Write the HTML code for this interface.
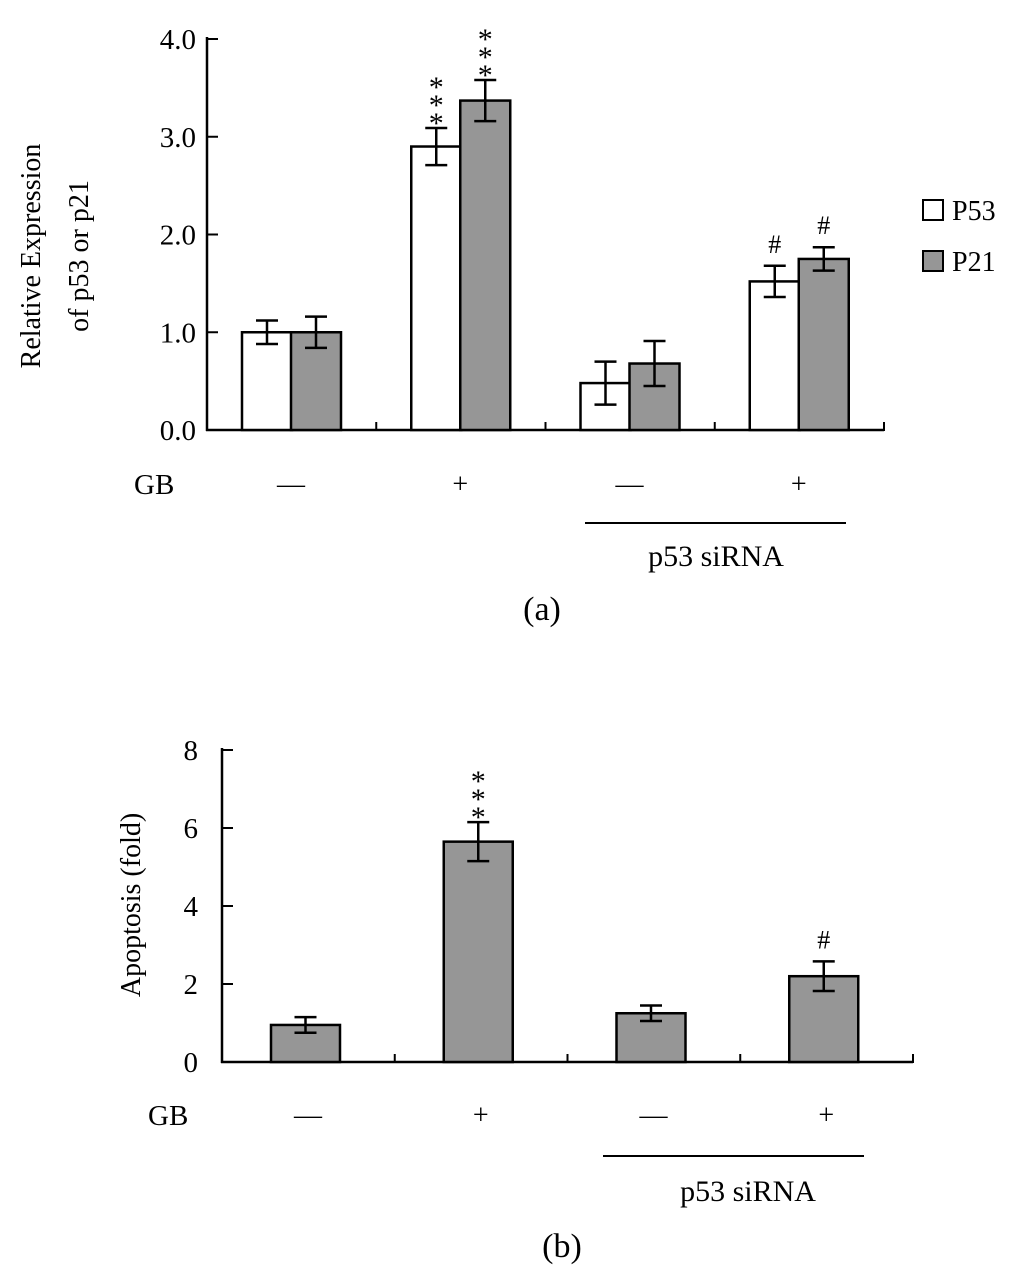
<!DOCTYPE html>
<html><head><meta charset="utf-8"><style>
body{margin:0;background:#fff;}
svg text{font-family:"Liberation Serif",serif;fill:#000;}
</style></head><body>
<svg id="s" width="1024" height="1282" xmlns="http://www.w3.org/2000/svg"></svg>
<script>
const catsA=["GB-","GB+","siRNA GB-","siRNA GB+"];
const p53Vals=[1.0,2.9,0.48,1.52];
const p53Err=[0.12,0.19,0.22,0.16];
const p21Vals=[1.0,3.37,0.68,1.75];
const p21Err=[0.16,0.21,0.23,0.12];
const p53Marks=["","***","","#"];
const p21Marks=["","***","","#"];
const ticksA=[0,1,2,3,4];
const tickLabelsA=["0.0","1.0","2.0","3.0","4.0"];
const apopVals=[0.95,5.65,1.25,2.2];
const apopErr=[0.2,0.5,0.2,0.38];
const apopMarks=["","***","","#"];
const ticksB=[0,2,4,6,8];
const gbSigns=["—","+","—","+"];

const S=document.getElementById('s');
const NS="http://www.w3.org/2000/svg";
function el(t,a,txt){const e=document.createElementNS(NS,t);for(const k in a)e.setAttribute(k,a[k]);if(txt!==undefined)e.textContent=txt;S.appendChild(e);return e;}
function line(x1,y1,x2,y2,w){return el('line',{x1,y1,x2,y2,stroke:'#000','stroke-width':w||2.5});}

// chart A
const ya=v=>430-v*97.75;
const axL=207,axR=884,gw=(axR-axL)/4;
let e=line(axL,37,axL,431);
e=line(axL-1,430,axR,430);
line(axR,422,axR,431,2);
for(let i=1;i<4;i++)line(axL+gw*i,422,axL+gw*i,430,2);
ticksA.forEach((t,i)=>{line(axL,ya(t),axL+11,ya(t),2);
 e=el('text',{x:196,y:ya(t)+10,'font-size':29,'text-anchor':'end'},tickLabelsA[i]);
 });
function bar(x,w,v,err,fill,ys,name,mark){
 e=el('rect',{x,y:ys(v),width:w,height:ys(0)-ys(v),fill,stroke:'#000','stroke-width':2.5});
 
 const cx=x+w/2;line(cx,ys(v+err),cx,ys(v-err),2.5);line(cx-11,ys(v+err),cx+11,ys(v+err),2.5);line(cx-11,ys(v-err),cx+11,ys(v-err),2.5);
 if(mark==='#'){e=el('text',{x:cx,y:ys(v+err)-13,'font-size':26,'text-anchor':'middle'},'#');}
 else if(mark){for(let k=0;k<3;k++){e=el('text',{x:cx,y:ys(v+err)+5-k*18,'font-size':30,'text-anchor':'middle'},'*');}}
}
catsA.forEach((c,i)=>{const g=axL+gw*i;
 bar(g+35,50,p53Vals[i],p53Err[i],'#fff',ya,'bar-p53-'+i,p53Marks[i]);
 bar(g+84,50,p21Vals[i],p21Err[i],'#969696',ya,'bar-p21-'+i,p21Marks[i]);
 e=el('text',{x:g+84,y:493,'font-size':28,'text-anchor':'middle'},gbSigns[i]);
});
el('text',{x:134,y:494,'font-size':29},'GB');
line(585,523,846,523,2);
el('text',{x:716,y:566,'font-size':30,'text-anchor':'middle'},'p53 siRNA');
el('text',{x:542,y:620,'font-size':34,'text-anchor':'middle'},'(a)');
e=el('text',{transform:'translate(40,256) rotate(-90)','font-size':28,'text-anchor':'middle'},'Relative Expression');
el('text',{transform:'translate(88,256) rotate(-90)','font-size':28,'text-anchor':'middle'},'of  p53 or p21');
e=el('rect',{x:923,y:200,width:20,height:20,fill:'#fff',stroke:'#000','stroke-width':2});
el('text',{x:952,y:220,'font-size':28},'P53');
e=el('rect',{x:923,y:251,width:20,height:20,fill:'#969696',stroke:'#000','stroke-width':2});
el('text',{x:952,y:271,'font-size':28},'P21');

// chart B
const yb=v=>1062-v*39;
const bL=222,bR=913,bw=(bR-bL)/4;
e=line(bL,748,bL,1063);
e=line(bL-1,1062,bR,1062);
line(bR,1054,bR,1063,2);
for(let i=1;i<4;i++)line(bL+bw*i,1054,bL+bw*i,1062,2);
ticksB.forEach(t=>{line(bL,yb(t),bL+11,yb(t),2);
 e=el('text',{x:198,y:yb(t)+10,'font-size':29,'text-anchor':'end'},String(t));});
apopVals.forEach((v,i)=>{const g=bL+bw*i;
 bar(g+49,69,v,apopErr[i],'#969696',yb,'bar-apoptosis-'+i,apopMarks[i]);
 e=el('text',{x:g+86,y:1124,'font-size':28,'text-anchor':'middle'},gbSigns[i]);
});
el('text',{x:148,y:1125,'font-size':29},'GB');
line(603,1156,864,1156,2);
el('text',{x:748,y:1201,'font-size':30,'text-anchor':'middle'},'p53 siRNA');
el('text',{x:562,y:1257,'font-size':34,'text-anchor':'middle'},'(b)');
e=el('text',{transform:'translate(140,905) rotate(-90)','font-size':28,'text-anchor':'middle'},'Apoptosis (fold)');
</script>
</body></html>
